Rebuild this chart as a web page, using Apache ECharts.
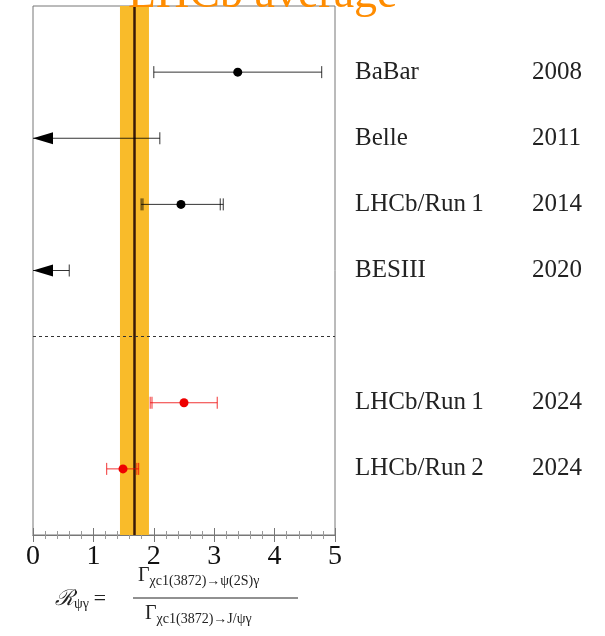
<!DOCTYPE html>
<html lang="en">
<head>
  <meta charset="UTF-8">
  <title>R psi gamma</title>
  <style>body{margin:0;background:#fff}</style>
</head>
<body>
  <div id="chart" style="width:605px;height:636px"></div>
  <script src="https://cdn.jsdelivr.net/npm/echarts@6/dist/echarts.min.js"></script>
  <script>
    // measurements, top to bottom
    const names = ['BaBar', 'Belle', 'LHCb/Run\u20091', 'BESIII', 'LHCb/Run\u20091', 'LHCb/Run\u20092']
    const years = ['2008', '2011', '2014', '2020', '2024', '2024']
    const rows = [7, 6, 5, 4, 2, 1]
    const central = [3.39, null, 2.45, null, 2.5, 1.49]
    const lowTot = [2.0, 0, 1.79, 0, 1.94, 1.22]
    const highTot = [4.78, 2.1, 3.15, 0.6, 3.05, 1.75]
    const lowStat = [null, null, 1.82, null, 1.97, null]
    const highStat = [null, null, 3.1, null, null, 1.72]
    const colors = ['#000', '#000', '#000', '#000', '#e00', '#e00']
    // average
    const avg = 1.67, avgLo = 1.44, avgHi = 1.92

    const serif = 'Liberation Serif'
    const myChart = echarts.init(document.getElementById('chart'))

    const data = rows.map((r, i) => [r, central[i], lowTot[i], highTot[i], lowStat[i], highStat[i], i])

    function renderItem(params, api) {
      const i = api.value(6)
      const y = api.coord([0, rows[i]])[1]
      const c = colors[i]
      const px = v => api.coord([v, 0])[0]
      const st = { stroke: c, lineWidth: 1, opacity: 0.8 }
      const kids = []
      const x1 = px(lowTot[i]), x2 = px(highTot[i])
      kids.push({ type: 'line', shape: { x1: x1, y1: y, x2: x2, y2: y }, style: st })
      const caps = [highTot[i]]
      if (lowTot[i] > 0) caps.push(lowTot[i])
      if (lowStat[i] != null) caps.push(lowStat[i])
      if (highStat[i] != null) caps.push(highStat[i])
      caps.forEach(v => kids.push({ type: 'line', shape: { x1: px(v), y1: y - 6, x2: px(v), y2: y + 6 }, style: st }))
      if (central[i] != null) {
        kids.push({ type: 'circle', shape: { cx: px(central[i]), cy: y, r: 4.5 }, style: { fill: c } })
      } else {
        const x0 = px(0)
        kids.push({ type: 'polygon', shape: { points: [[x0, y], [x0 + 20, y - 6], [x0 + 20, y + 6]] }, style: { fill: '#000' } })
      }
      return { type: 'group', children: kids }
    }

    const tickAxis = {
      type: 'value', min: 0, max: 5, interval: 1, show: true,
      axisLine: { show: true, lineStyle: { color: '#777' } },
      axisTick: { show: true, inside: true, length: 7, lineStyle: { color: '#777' } },
      minorTick: { show: true, splitNumber: 5, length: 4, lineStyle: { color: '#999' } },
      splitLine: { show: false }
    }

    const option = {
      animation: false,
      grid: { left: 33, right: 270, top: 6, bottom: 101, outerBoundsMode: 'none', containLabel: false,
        show: true, borderColor: '#777', borderWidth: 1 },
      xAxis: [
        Object.assign({}, tickAxis, { axisLabel: { fontFamily: serif, fontSize: 28, color: '#111', margin: 8 } }),
        Object.assign({}, tickAxis, { position: 'top', gridIndex: 0, axisLabel: { show: false } })
      ],
      yAxis: [{
        type: 'value', min: 0, max: 8, interval: 1,
        axisLine: { show: false }, axisTick: { show: false }, splitLine: { show: false }, axisLabel: { show: false }
      }, {
        type: 'value', min: 0, max: 8, interval: 1, position: 'right',
        axisLine: { show: false }, axisTick: { show: false }, splitLine: { show: false },
        axisLabel: {
          margin: 20,
          formatter: v => {
            const i = rows.indexOf(v)
            return i < 0 ? '' : '{n|' + names[i] + '}{y|' + years[i] + '}'
          },
          rich: {
            n: { fontFamily: serif, fontSize: 25, color: '#222', width: 177 },
            y: { fontFamily: serif, fontSize: 25, color: '#222' }
          }
        }
      }],
      series: [{
        type: 'line', data: [], xAxisIndex: 0, yAxisIndex: 0,
        markArea: { silent: true, itemStyle: { color: '#f9bb2a' }, data: [[{ xAxis: avgLo }, { xAxis: avgHi }]] },
        markLine: {
          silent: true, symbol: 'none', label: { show: false },
          data: [
            { xAxis: avg, lineStyle: { color: '#3a1a08', width: 2.5, type: 'solid' } },
            { yAxis: 3, lineStyle: { color: '#333', width: 1, type: [3, 3] } }
          ]
        }
      }, {
        type: 'line', data: [[0, 0]], symbol: 'none', lineStyle: { opacity: 0 }, xAxisIndex: 1, yAxisIndex: 1
      }, {
        type: 'custom', renderItem: renderItem, data: data, z: 5,
        encode: { x: [1, 2, 3], y: 0 }
      }],
      graphic: [
        { type: 'text', left: 128, top: -28, z: 10, style: { text: 'LHCb average', fontFamily: serif, fontSize: 46, fill: '#ff8c00' } },
        { type: 'text', left: 55, top: 588, style: {
          text: '{r|\u211b}{s|\u03c8\u03b3} {r|=}', rich: {
            r: { fontFamily: serif, fontSize: 22, fontStyle: 'italic', fill: '#222' },
            s: { fontFamily: serif, fontSize: 14, fill: '#222', padding: [10, 0, 0, 0] }
          } } },
        { type: 'text', left: 138, top: 566, style: {
          text: '{g|\u0393}{s|\u03c7c1(3872)\u2192\u03c8(2S)\u03b3}', rich: {
            g: { fontFamily: serif, fontSize: 20, fill: '#222' },
            s: { fontFamily: serif, fontSize: 14, fill: '#222', padding: [10, 0, 0, 0] }
          } } },
        { type: 'line', shape: { x1: 133, y1: 598, x2: 298, y2: 598 }, style: { stroke: '#222', lineWidth: 1 } },
        { type: 'text', left: 145, top: 604, style: {
          text: '{g|\u0393}{s|\u03c7c1(3872)\u2192J/\u03c8\u03b3}', rich: {
            g: { fontFamily: serif, fontSize: 20, fill: '#222' },
            s: { fontFamily: serif, fontSize: 14, fill: '#222', padding: [10, 0, 0, 0] }
          } } }
      ]
    }
    myChart.setOption(option)
  </script>
</body>
</html>
